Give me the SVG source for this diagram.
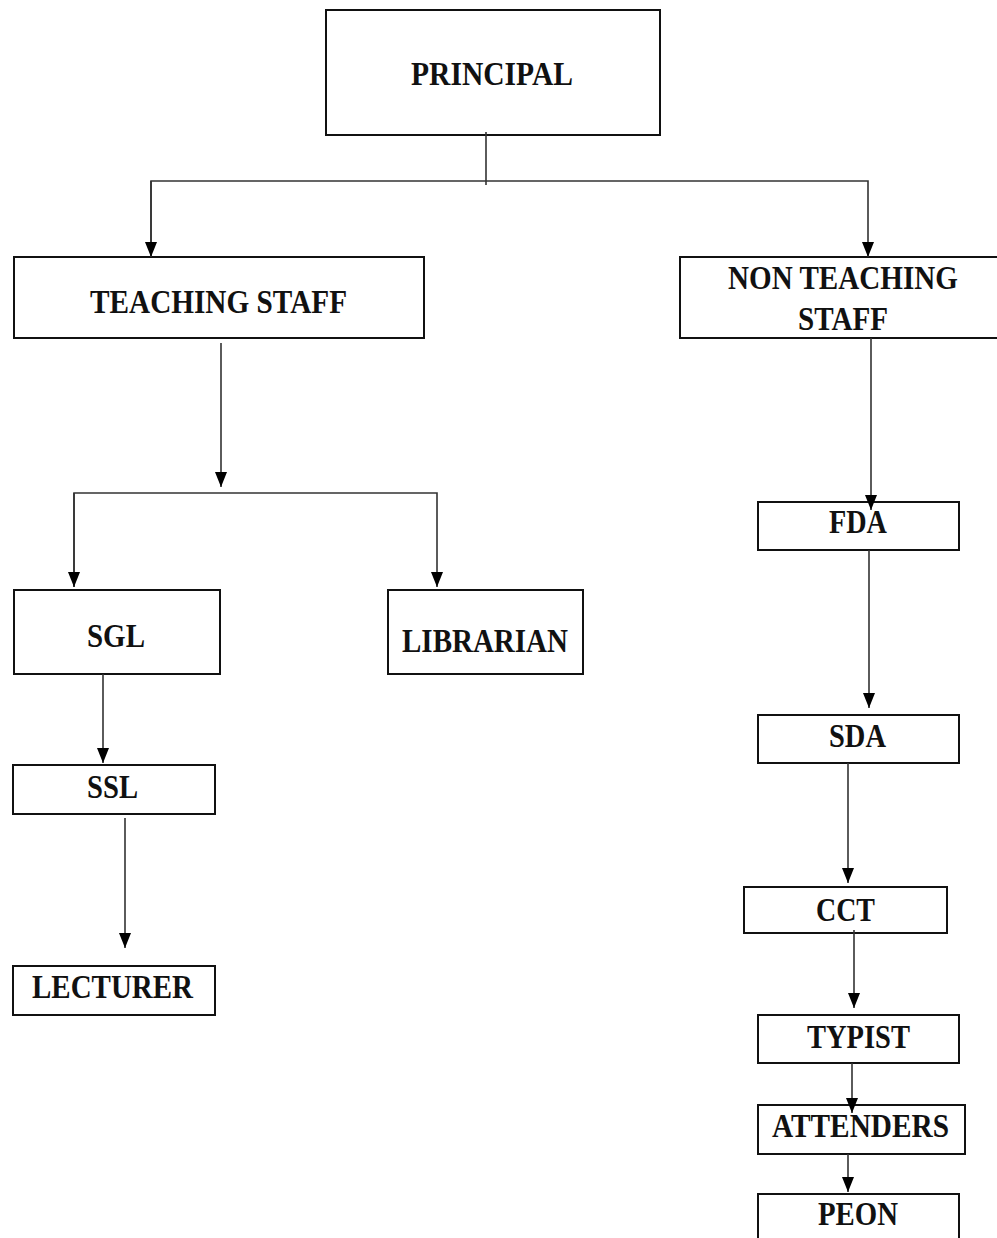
<svg xmlns="http://www.w3.org/2000/svg" width="997" height="1238" viewBox="0 0 997 1238">
<style>
.box{fill:#fff;stroke:#111;stroke-width:2}
.lbl{font-family:"Liberation Serif","Times New Roman",serif;font-weight:bold;font-size:33px;fill:#111}
.con{fill:none;stroke:#333;stroke-width:1.6}
</style>
<defs>
<marker id="arr" markerUnits="userSpaceOnUse" markerWidth="12" markerHeight="16" viewBox="0 0 12 16" refX="6" refY="16" orient="auto-start-reverse">
<path d="M0,0 L12,0 L6,16 Z" fill="#000" transform="rotate(0)"/>
</marker>
<marker id="arrd" markerUnits="userSpaceOnUse" markerWidth="12" markerHeight="15" viewBox="0 0 12 15" refX="6" refY="15" orient="0">
<path d="M0,0 L12,0 L6,15 Z" fill="#000"/>
</marker>
</defs>
<rect width="997" height="1238" fill="#fff"/>
<g id="nodes">
<g id="principal"><rect class="box" x="326" y="10" width="334" height="125"/><text class="lbl" x="411" y="85" textLength="162" lengthAdjust="spacingAndGlyphs">PRINCIPAL</text></g>
<g id="teaching"><rect class="box" x="14" y="257" width="410" height="81"/><text class="lbl" x="90" y="313" textLength="257" lengthAdjust="spacingAndGlyphs">TEACHING STAFF</text></g>
<g id="nonteaching"><rect class="box" x="680" y="257" width="330" height="81"/><text class="lbl" x="728" y="289" textLength="230" lengthAdjust="spacingAndGlyphs">NON TEACHING</text><text class="lbl" x="798" y="330" textLength="90" lengthAdjust="spacingAndGlyphs">STAFF</text></g>
<g id="sgl"><rect class="box" x="14" y="590" width="206" height="84"/><text class="lbl" x="87" y="647" textLength="58" lengthAdjust="spacingAndGlyphs">SGL</text></g>
<g id="librarian"><rect class="box" x="388" y="590" width="195" height="84"/><text class="lbl" x="402" y="652" textLength="166" lengthAdjust="spacingAndGlyphs">LIBRARIAN</text></g>
<g id="ssl"><rect class="box" x="13" y="765" width="202" height="49"/><text class="lbl" x="87" y="798" textLength="51" lengthAdjust="spacingAndGlyphs">SSL</text></g>
<g id="lecturer"><rect class="box" x="13" y="966" width="202" height="49"/><text class="lbl" x="32" y="998" textLength="161" lengthAdjust="spacingAndGlyphs">LECTURER</text></g>
<g id="fda"><rect class="box" x="758" y="502" width="201" height="48"/><text class="lbl" x="829" y="533" textLength="58" lengthAdjust="spacingAndGlyphs">FDA</text></g>
<g id="sda"><rect class="box" x="758" y="715" width="201" height="48"/><text class="lbl" x="829" y="747" textLength="57" lengthAdjust="spacingAndGlyphs">SDA</text></g>
<g id="cct"><rect class="box" x="744" y="887" width="203" height="46"/><text class="lbl" x="816" y="921" textLength="59" lengthAdjust="spacingAndGlyphs">CCT</text></g>
<g id="typist"><rect class="box" x="758" y="1015" width="201" height="48"/><text class="lbl" x="807" y="1048" textLength="103" lengthAdjust="spacingAndGlyphs">TYPIST</text></g>
<g id="attenders"><rect class="box" x="758" y="1105" width="207" height="49"/><text class="lbl" x="772" y="1137" textLength="177" lengthAdjust="spacingAndGlyphs">ATTENDERS</text></g>
<g id="peon"><rect class="box" x="758" y="1194" width="201" height="60"/><text class="lbl" x="818" y="1225" textLength="80" lengthAdjust="spacingAndGlyphs">PEON</text></g>
</g>
<g id="connectors">
<path class="con" d="M486,132 V185"/>
<path class="con" d="M151,257 V181 H868 V257" marker-end="url(#arrd)"/>
<path class="con" d="M151,181 V257" marker-end="url(#arrd)"/>
<path class="con" d="M221,343 V487" marker-end="url(#arrd)"/>
<path class="con" d="M74,587 V493 H437 V587" marker-end="url(#arrd)"/>
<path class="con" d="M74,493 V587" marker-end="url(#arrd)"/>
<path class="con" d="M103,674 V763" marker-end="url(#arrd)"/>
<path class="con" d="M125,818 V948" marker-end="url(#arrd)"/>
<path class="con" d="M871,338 V510" marker-end="url(#arrd)"/>
<path class="con" d="M869,550 V708" marker-end="url(#arrd)"/>
<path class="con" d="M848,763 V883" marker-end="url(#arrd)"/>
<path class="con" d="M854,930 V1008" marker-end="url(#arrd)"/>
<path class="con" d="M852,1063 V1113" marker-end="url(#arrd)"/>
<path class="con" d="M848,1154 V1192" marker-end="url(#arrd)"/>
</g>
</svg>
